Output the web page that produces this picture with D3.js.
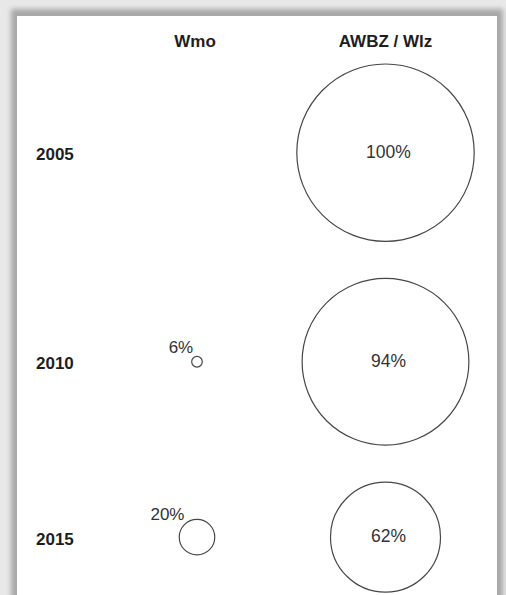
<!DOCTYPE html>
<html>
<head>
<meta charset="utf-8">
<script src="https://cdn.jsdelivr.net/npm/d3@7/dist/d3.min.js"></script>
<style>
  html, body { margin: 0; padding: 0; background: #e8e8e8; }
  svg { display: block; }
</style>
</head>
<body>
<svg id="chart" width="506" height="595"></svg>
<script>
// ---- data ----
const years = ["2005", "2010", "2015"];
const columns = ["Wmo", "AWBZ / Wlz"];
const wmo = [0, 6, 20];          // % (0 = no circle)
const awbz = [100, 94, 62];      // %

// ---- layout ----
const W = 506, H = 595;
const svg = d3.select("#chart");

const defs = svg.append("defs");
const f = defs.append("filter").attr("id", "shadow")
  .attr("x", "-10%").attr("y", "-10%").attr("width", "120%").attr("height", "120%");
f.append("feGaussianBlur").attr("stdDeviation", 2.8);

// frame / shadow
svg.append("rect").attr("x", 0).attr("y", 0).attr("width", W).attr("height", H).attr("fill", "#e8e8e8");
svg.append("rect").attr("x", 11).attr("y", 9).attr("width", 492).attr("height", 600)
  .attr("fill", "#a8a8a8").attr("filter", "url(#shadow)");
svg.append("rect").attr("x", 17).attr("y", 16).attr("width", 480).attr("height", 600).attr("fill", "#fff");

const font = "'Liberation Sans', Arial, Helvetica, sans-serif";

const x = d3.scalePoint().domain(columns).range([197, 385.5]);
const r = d3.scaleLinear().domain([0, 100]).range([0, 88.7]);

// row centres: circles of the largest column stacked with a constant gap
const gap = 37, top0 = 64;
const rowY = [];
let acc = top0;
awbz.forEach((v, i) => {
  acc += r(v);
  rowY.push(acc);
  acc += r(v) + gap;
});
const y = d3.scaleOrdinal().domain(years).range(rowY);

// column headers
svg.selectAll("text.head").data(columns).join("text")
  .attr("class", "head")
  .attr("x", d => x(d) - (d === "Wmo" ? 2 : 0))
  .attr("y", 47)
  .attr("text-anchor", "middle")
  .attr("font-family", font).attr("font-weight", "bold").attr("font-size", 17)
  .attr("fill", "#1e1e1e")
  .text(d => d);

// row labels
svg.selectAll("text.year").data(years).join("text")
  .attr("class", "year")
  .attr("x", 36)
  .attr("y", d => y(d) + 7.5)
  .attr("font-family", font).attr("font-weight", "bold").attr("font-size", 17)
  .attr("fill", "#1e1e1e")
  .text(d => d);

// AWBZ / Wlz circles
const aData = years.map((yr, i) => ({ yr, v: awbz[i] }));
svg.selectAll("circle.awbz").data(aData).join("circle")
  .attr("class", "awbz")
  .attr("cx", x("AWBZ / Wlz"))
  .attr("cy", d => y(d.yr))
  .attr("r", d => r(d.v))
  .attr("fill", "none").attr("stroke", "#474747").attr("stroke-width", 1.2);

svg.selectAll("text.awbz").data(aData).join("text")
  .attr("class", "awbz")
  .attr("x", x("AWBZ / Wlz") + 3)
  .attr("y", d => y(d.yr) + 5)
  .attr("text-anchor", "middle")
  .attr("font-family", font).attr("font-size", 17.5)
  .attr("fill", "#333")
  .text(d => d.v + "%");

// Wmo circles
const wData = years.map((yr, i) => ({ yr, v: wmo[i] })).filter(d => d.v > 0);
svg.selectAll("circle.wmo").data(wData).join("circle")
  .attr("class", "wmo")
  .attr("cx", x("Wmo"))
  .attr("cy", d => y(d.yr))
  .attr("r", d => r(d.v))
  .attr("fill", "none").attr("stroke", "#474747").attr("stroke-width", 1.2);

svg.selectAll("text.wmo").data(wData).join("text")
  .attr("class", "wmo")
  .attr("x", d => x("Wmo") - 0.707 * r(d.v))
  .attr("y", d => y(d.yr) - 0.707 * r(d.v) - 5)
  .attr("text-anchor", "end")
  .attr("font-family", font).attr("font-size", 17)
  .attr("fill", "#333")
  .text(d => d.v + "%");
</script>
</body>
</html>
